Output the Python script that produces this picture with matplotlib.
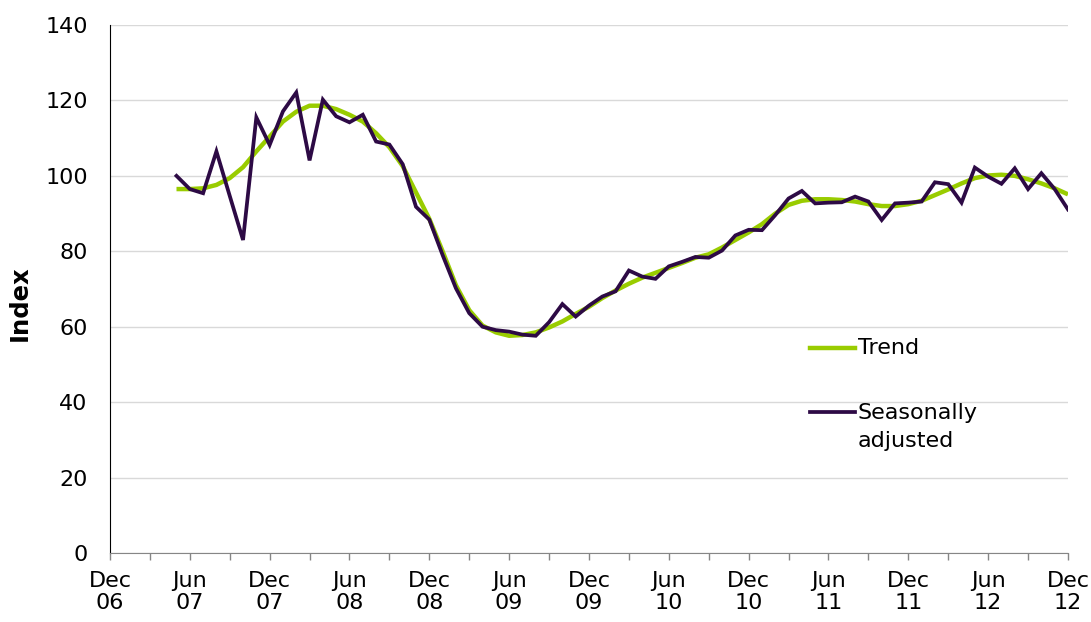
#!/usr/bin/env python3
"""Index chart: trend vs seasonally adjusted, Dec 06 - Dec 12."""

import matplotlib
matplotlib.use('Agg')

import matplotlib.pyplot as plt
from matplotlib.lines import Line2D

# months counted from Dec 2006 (0) to Dec 2012 (72); series start May 2007
start_month = 5

seasonally_adjusted = [
    100.0, 96.5, 95.4, 106.5, 94.7, 83.0, 115.5, 108.2, 117.1, 122.1,
    104.1, 120.2, 115.8, 114.2, 116.2, 109.1, 108.3, 103.1, 91.8, 88.4,
    79.0, 70.2, 63.6, 60.0, 59.1, 58.7, 57.9, 57.6, 61.2, 66.0,
    62.7, 65.6, 68.0, 69.4, 74.9, 73.3, 72.7, 76.0, 77.2, 78.5,
    78.3, 80.2, 84.2, 85.7, 85.6, 89.6, 94.0, 96.0, 92.7, 92.9,
    93.0, 94.5, 93.2, 88.3, 92.7, 92.9, 93.2, 98.3, 97.8, 92.9,
    102.2, 99.8, 97.9, 102.0, 96.5, 100.7, 96.5, 91.1,
]

trend = [
    96.5, 96.5, 96.7, 97.6, 99.4, 102.3, 106.5, 110.4, 114.4, 117.0,
    118.6, 118.6, 117.7, 116.2, 114.4, 111.3, 107.6, 102.6, 95.6, 88.6,
    80.0, 71.0, 64.4, 60.3, 58.5, 57.6, 57.8, 58.5, 59.8, 61.4,
    63.4, 65.3, 67.6, 69.6, 71.4, 73.0, 74.3, 75.6, 76.9, 78.3,
    79.2, 81.0, 83.0, 85.0, 87.2, 90.0, 92.3, 93.4, 93.8, 93.8,
    93.6, 93.2, 92.5, 92.0, 92.0, 92.5, 93.4, 94.9, 96.4, 98.0,
    99.4, 100.1, 100.3, 100.0, 99.1, 98.0, 96.7, 95.1,
]

tick_labels = ['Dec\n06', 'Jun\n07', 'Dec\n07', 'Jun\n08', 'Dec\n08', 'Jun\n09',
               'Dec\n09', 'Jun\n10', 'Dec\n10', 'Jun\n11', 'Dec\n11', 'Jun\n12',
               'Dec\n12']

COR_TREND = '#99CC00'
COR_SA = '#2D0A45'

plt.rcParams['font.family'] = ['DejaVu Sans']
plt.rcParams['font.size'] = 16

fig = plt.figure(figsize=(10.91, 6.22), dpi=100)
ax = fig.add_axes([0.1008, 0.1109, 0.8781, 0.8489])

months = list(range(start_month, start_month + len(trend)))

ax.plot(months, trend, color=COR_TREND, linewidth=3.2, solid_capstyle='butt', zorder=3)
ax.plot(months, seasonally_adjusted, color=COR_SA, linewidth=2.7,
        solid_joinstyle='miter', zorder=4)

ax.set_xlim(0, 72)
ax.set_ylim(0, 140)
ax.set_yticks(range(0, 141, 20))
ax.set_xticks(range(0, 73, 3), minor=True)
ax.set_xticks(range(0, 73, 6))
ax.set_xticklabels(tick_labels, linespacing=1.1)

ax.tick_params(axis='y', length=0, pad=16, labelsize=16)
ax.tick_params(axis='x', which='both', direction='out', length=5, width=1,
               color='#868686', pad=8, labelsize=16)

ax.grid(True, axis='y', color='#D9D9D9', linewidth=1)
ax.set_axisbelow(True)
for lado in ['top', 'right']:
    ax.spines[lado].set_visible(False)
ax.spines['left'].set_color('black')
ax.spines['bottom'].set_color('#868686')

ax.set_ylabel('Index', fontweight='bold', fontsize=17.5)
ax.yaxis.set_label_coords(-0.0814, 0.4735)

# legenda manual
ax.add_line(Line2D([0.7307, 0.7777], [0.3883, 0.3883], transform=ax.transAxes,
                   color=COR_TREND, linewidth=3.2))
ax.text(0.7808, 0.3883, 'Trend', transform=ax.transAxes, va='center', ha='left')
ax.add_line(Line2D([0.7307, 0.7777], [0.267, 0.267], transform=ax.transAxes,
                   color=COR_SA, linewidth=2.7))
ax.text(0.7808, 0.239, 'Seasonally\nadjusted', transform=ax.transAxes,
        va='center', ha='left', linespacing=1.5)

fig.savefig('out.png', dpi=100)
